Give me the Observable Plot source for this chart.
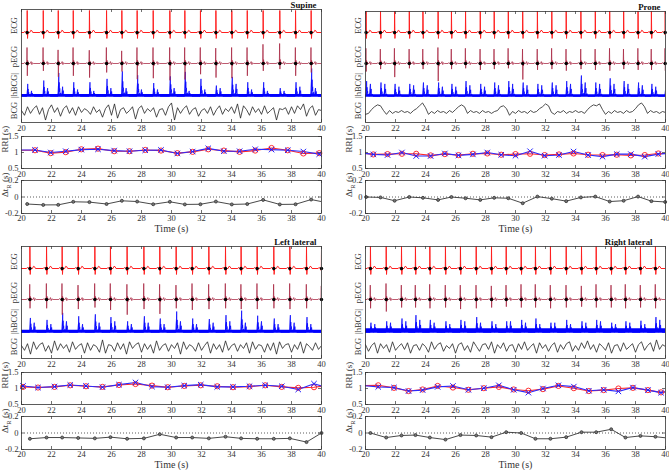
<!DOCTYPE html>
<html><head><meta charset="utf-8">
<script src="https://cdn.jsdelivr.net/npm/d3@7"></script>
<script src="https://cdn.jsdelivr.net/npm/@observablehq/plot@0.6"></script>
<style>
body{margin:0;background:#fff;}
#root{position:relative;width:669px;height:470px;overflow:hidden;background:#fff;}
#root svg{position:absolute;overflow:visible;}
</style></head><body><div id="root"></div>
<script>
// ---------- tick labels / names ----------
const xTicks=[20,22,24,26,28,30,32,34,36,38,40];
const rriTicks=[0.5,1,1.5];
const dtTicks=[-0.2,0,0.2];
const rowLabels=["ECG","pECG","|hBCG|","BCG"];
const panelNames=["Supine","Prone","Left lateral","Right lateral"];

// ---------- R-peak times (s) ----------
const beatsSupine=[20.38,21.45,22.45,23.45,24.53,25.67,26.69,27.71,28.78,29.89,30.89,31.93,32.96,34.02,35.05,36.11,37.22,38.27,39.31];
const beatsProne=[20.04,21.0,21.94,22.92,23.83,24.84,25.73,26.67,27.65,28.58,29.52,30.48,31.46,32.42,33.38,34.36,35.32,36.28,37.21,38.17,39.06,39.98];
const beatsLeft=[20.56,21.67,22.71,23.78,24.89,25.93,27.04,28.16,29.22,30.31,31.38,32.49,33.6,34.64,35.71,36.82,37.89,39.0,40.0];
const beatsRight=[20.33,21.38,22.4,23.33,24.29,25.33,26.33,27.38,28.4,29.38,30.38,31.33,32.33,33.38,34.4,35.38,36.38,37.33,38.33,39.33];

// ---------- pECG R (up) and S (down) amplitudes per beat ----------
const pUpSupine=[1,1,0.85,1,0.83,1,0.79,1,1,1,1,1,0.96,1,1,1.2,1.25,1,1];
const pDownSupine=[0.77,0.46,0.83,0.77,0.88,0.56,0.5,0.98,0.92,1.05,1.0,0.67,0.88,0.92,0.77,0.46,0.35,0.77,0.56];
const pUpProne=[0.95,0.9,0.95,0.9,0.9,1.0,0.9,0.95,0.9,0.9,0.95,0.9,0.9,0.95,0.9,0.9,0.9,0.95,0.9,0.95,0.9,0.95];
const pDownProne=[0.5,0.35,0.85,0.3,0.35,1.1,0.35,0.3,0.4,0.35,0.3,1.0,0.4,0.35,0.45,0.35,0.4,0.45,0.35,0.4,0.4,0.45];
const pUpLeft=[0.95,1.0,1.0,0.9,1.0,1.0,0.95,1.0,0.95,0.9,1.0,0.95,1.0,0.95,1.0,0.95,1.0,0.95,0.85];
const pDownLeft=[0.55,0.55,0.95,0.6,0.5,0.65,0.95,0.6,0.9,0.55,0.65,0.6,0.55,0.6,0.6,0.55,0.6,0.55,0.75];
const pUpRight=[0.9,1.0,0.9,0.9,0.95,0.9,0.9,0.9,0.85,0.9,0.95,0.95,0.9,0.9,0.85,0.95,0.9,0.95,0.9,0.95];
const pDownRight=[0.55,0.75,0.5,0.5,0.55,0.5,0.6,0.55,0.5,0.45,0.5,0.5,0.55,0.5,0.45,0.5,0.5,0.55,0.5,0.55];

// ---------- |hBCG| main / secondary peak heights per beat, noise floor ----------
const hMainSupine=[0.45,0.57,0.84,0.51,0.51,0.63,0.9,0.76,0.48,0.72,0.88,0.63,0.39,0.7,0.51,0.51,0.3,0.51,1.0];
const hSecSupine=[0.2,0.3,0.35,0.25,0.2,0.3,0.3,0.25,0.25,0.3,0.2,0.25,0.3,0.45,0.25,0.2,0.2,0.35,0.3];
const hMainProne=[0.55,0.5,0.45,0.45,0.5,0.5,0.45,0.55,0.45,0.5,0.55,0.5,0.45,0.5,0.55,0.75,0.5,0.65,0.55,0.5,0.45,0.4];
const hSecProne=[0.45,0.45,0.35,0.4,0.4,0.35,0.35,0.4,0.35,0.4,0.45,0.4,0.4,0.4,0.45,0.5,0.45,0.45,0.45,0.4,0.35,0.3];
const hMainLeft=[0.52,0.45,0.7,0.58,0.65,0.55,0.4,0.58,0.5,0.75,0.5,0.48,0.62,0.78,0.6,0.5,0.62,0.55,0.6];
const hSecLeft=[0.35,0.3,0.4,0.3,0.35,0.4,0.3,0.35,0.3,0.4,0.3,0.35,0.4,0.35,0.4,0.3,0.35,0.3,0.3];
const hMainRight=[0.35,0.4,0.5,0.62,0.45,0.4,0.45,0.55,0.4,0.4,0.45,0.5,0.35,0.45,0.4,0.45,0.35,0.4,0.42,0.55];
const hSecRight=[0.3,0.35,0.4,0.45,0.35,0.3,0.4,0.35,0.3,0.4,0.35,0.3,0.35,0.3,0.35,0.4,0.3,0.35,0.3,0.45];
const hFloor=[0.07,0.06,0.08,0.13];

// ---------- BCG samples, 20 s to 40 s, evenly spaced ----------
const bcgSupine=[0.1,-0.4,0.5,-0.2,0.3,0.6,-0.3,0.4,-0.9,0.2,0.7,-0.1,0.4,-0.5,0.3,0.6,-0.2,0.4,-0.4,0.5,
 -0.1,0.3,0.1,-0.3,0.5,-0.1,0.2,-0.6,0.3,0.7,-0.4,0.8,-0.7,0.2,0.4,-0.2,0.1,0.5,-0.8,0.3,
 0.6,-0.2,0.3,0.0,0.4,-0.6,0.2,0.3,-0.4,0.5,0.9,-0.9,0.4,-0.2,0.3,0.6,-0.3,0.2,0.4,-0.5,
 0.1,0.3,-0.2,0.5,-0.4,0.2,0.6,-0.3,0.3,0.0,0.5,-0.2,0.8,-0.7,0.6,0.2,-0.4,0.5,-0.1,0.3,
 -0.3,0.6,-0.2,0.1,0.4,-0.9,0.3,0.2,0.4,-0.3,0.5,-0.2,0.6,0.2,0.8,-0.5,0.3,0.6,-0.4,0.2,0.1];
const bcgProne=[-0.3,-0.2,0.2,0.5,0.7,0.6,0.1,-0.3,0.1,-0.2,0.0,-0.1,0.1,-0.1,0.0,-0.2,0.1,0.3,0.6,0.9,
 0.4,-0.3,0.0,-0.2,0.1,-0.1,0.0,-0.2,0.1,-0.1,0.2,0.5,0.7,0.5,-0.2,0.1,-0.1,0.0,-0.2,0.1,
 -0.1,0.0,-0.2,0.0,0.1,0.5,0.6,0.3,-0.4,0.0,-0.2,0.1,-0.1,0.0,-0.2,0.1,-0.1,0.0,0.3,0.5,
 0.8,0.6,-0.1,-0.3,0.0,-0.1,0.1,-0.2,0.0,-0.1,0.1,-0.1,0.0,-0.2,0.2,0.5,0.7,0.6,0.8,0.2,
 -0.3,0.0,-0.2,0.1,-0.1,0.0,-0.2,0.1,-0.1,0.0,0.3,0.7,0.9,0.5,-0.2,0.1,-0.1,0.0,-0.2,0.0,-0.1];
const bcgLeft=[0.2,-0.3,0.4,-0.7,0.6,-0.2,0.3,0.5,-0.4,0.2,-0.6,0.7,-0.3,0.4,-0.1,0.3,-0.5,0.6,-0.2,0.2,
 0.4,-0.6,0.5,-0.3,0.3,0.1,-0.5,0.8,-0.6,0.3,0.2,-0.4,0.5,-0.2,0.4,-0.7,0.6,-0.1,0.3,0.5,
 -0.5,0.4,-0.2,0.3,-0.6,0.7,-0.3,0.2,0.4,-0.4,0.3,-0.1,0.5,-0.7,0.6,-0.2,0.3,0.1,-0.4,0.5,
 -0.3,0.2,0.6,-0.6,0.4,-0.2,0.3,-0.5,0.7,-0.3,0.2,0.4,-0.4,0.3,-0.1,0.5,-0.6,0.6,-0.2,0.3,
 0.2,-0.5,0.4,-0.3,0.5,-0.7,0.6,-0.1,0.3,0.4,-0.5,0.3,-0.2,0.6,-0.6,0.4,0.1,-0.3,0.5,-0.2,0.2];
const bcgRight=[0.3,-0.4,0.2,0.5,-0.6,0.4,-0.1,0.3,-0.5,0.6,-0.3,0.1,0.4,-0.2,0.5,-0.6,0.2,0.3,-0.3,0.4,
 0.1,-0.5,0.6,-0.2,0.3,0.5,-0.4,0.2,-0.1,0.4,-0.6,0.3,0.5,-0.3,0.2,-0.5,0.6,0.1,-0.4,0.3,
 0.4,-0.2,0.6,-0.6,0.3,-0.1,0.5,-0.4,0.2,0.3,-0.5,0.4,-0.2,0.6,-0.3,0.1,0.4,-0.6,0.5,-0.1,
 0.3,-0.4,0.2,0.5,-0.5,0.3,-0.2,0.4,0.6,-0.4,0.2,-0.3,0.5,-0.1,0.7,-0.2,0.3,-0.5,0.4,0.1,
 -0.3,0.5,-0.6,0.2,0.3,-0.4,0.5,-0.2,0.1,0.4,-0.5,0.3,0.6,-0.3,0.2,0.5,-0.4,0.8,-0.2,0.3,0.1];

// ---------- RRI (s): time, ECG-derived, BCG-derived (first/last points lie just outside 20–40 s) ----------
const rriTSupine=[19.85,20.9,21.95,22.95,23.99,25.1,26.18,27.2,28.25,29.3,30.39,31.41,32.45,33.49,34.54,35.58,36.67,37.75,38.79,39.85,40.9];
const rriEcgSupine=[1.07,1.07,0.98,1.01,1.1,1.12,1.04,1.04,1.08,1.06,0.98,1.02,1.1,1.06,1.02,1.06,1.14,1.07,0.97,0.98,1.0];
const rriBcgSupine=[1.08,1.08,1.0,1.04,1.09,1.1,1.06,1.04,1.07,1.08,0.97,1.03,1.13,1.04,1.04,1.1,1.09,1.07,1.03,0.95,1.0];
const rriTProne=[19.55,20.52,21.47,22.43,23.38,24.34,25.29,26.2,27.16,28.12,29.05,30.0,30.97,31.94,32.9,33.87,34.84,35.8,36.75,37.69,38.62,39.52,40.48];
const rriEcgProne=[1.0,0.94,0.95,0.96,0.96,0.91,0.95,0.92,0.96,0.97,0.93,0.95,0.96,0.92,0.94,0.97,0.93,0.92,0.93,0.91,0.92,0.97,0.97];
const rriBcgProne=[1.0,0.94,0.92,1.0,0.89,0.89,0.97,0.91,0.94,1.0,0.93,0.9,1.04,0.9,0.92,1.03,0.92,0.87,0.95,0.95,0.87,0.95,0.98];
const rriTLeft=[19.1,20.1,21.1,22.2,23.25,24.3,25.4,26.5,27.6,28.7,29.75,30.85,31.95,33.05,34.1,35.2,36.25,37.35,38.45,39.5,40.55];
const rriEcgLeft=[1.05,1.05,1.03,1.05,1.1,1.07,1.05,1.11,1.14,1.09,1.04,1.08,1.1,1.07,1.04,1.06,1.1,1.05,1.02,1.04,1.1];
const rriBcgLeft=[1.08,1.08,1.03,1.06,1.11,1.08,1.04,1.12,1.19,1.06,1.04,1.09,1.12,1.05,1.05,1.07,1.1,1.07,0.97,1.15,1.0];
const rriTRight=[19.85,20.85,21.9,22.87,23.81,24.81,25.83,26.86,27.89,28.89,29.88,30.86,31.83,32.86,33.89,34.89,35.88,36.86,37.83,38.83,39.7,40.6];
const rriEcgRight=[1.09,1.1,1.02,0.92,0.97,1.08,1.03,0.96,1.01,1.05,0.97,0.93,0.98,1.08,1.01,0.92,0.95,1.0,1.02,0.95,0.88,0.95];
const rriBcgRight=[1.09,1.05,1.03,0.92,0.95,1.05,1.08,0.96,1.01,1.1,0.96,0.87,1.0,1.1,1.06,0.93,0.96,0.91,1.03,0.95,0.87,0.95];

// ---------- Δt_R (s) at each beat (last point may lie beyond 40 s) ----------
const dtTSupine=[20.38,21.45,22.45,23.45,24.53,25.67,26.69,27.71,28.78,29.89,30.89,31.93,32.96,34.02,35.05,36.11,37.22,38.27,39.31,40.4];
const dtSupine=[-0.085,-0.096,-0.095,-0.058,-0.062,-0.085,-0.046,-0.055,-0.088,-0.058,-0.09,-0.088,-0.055,-0.09,-0.085,-0.035,-0.09,-0.088,-0.031,-0.07];
const dtTProne=[20.04,21.0,21.94,22.92,23.83,24.84,25.73,26.67,27.65,28.58,29.52,30.48,31.46,32.42,33.38,34.36,35.32,36.28,37.21,38.17,39.06,39.98,40.9];
const dtProne=[0,-0.005,-0.045,0,-0.01,-0.035,0,-0.015,-0.035,-0.01,-0.015,-0.075,0.005,-0.02,-0.05,-0.005,0.005,-0.055,-0.045,0.005,-0.05,-0.06,-0.06];
const dtTLeft=[20.56,21.67,22.71,23.78,24.89,25.93,27.04,28.16,29.22,30.31,31.38,32.49,33.6,34.64,35.71,36.82,37.89,39.0,40.0];
const dtLeft=[-0.07,-0.055,-0.055,-0.06,-0.065,-0.05,-0.07,-0.065,-0.015,-0.055,-0.055,-0.065,-0.045,-0.065,-0.07,-0.07,-0.065,-0.11,0];
const dtTRight=[20.33,21.38,22.4,23.33,24.29,25.33,26.33,27.38,28.4,29.38,30.38,31.33,32.33,33.38,34.4,35.38,36.38,37.33,38.33,39.33,40.33];
const dtRight=[0,-0.055,-0.03,-0.025,-0.055,-0.08,-0.025,-0.03,-0.05,0.01,0,-0.07,-0.07,-0.05,0.01,0.01,0.045,-0.055,-0.035,-0.045,-0.065];

// ---------- waveform shapes around an R peak: [offset s, ...coefficients] ----------
const ECG_SHAPE=[[-0.22,0],[-0.18,0.04],[-0.13,0.04],[-0.09,0],[-0.03,0],[-0.012,-0.1],[0,1],[0.022,-0.27],[0.045,0],[0.17,0],[0.24,0.1],[0.31,0.08],[0.37,0]];
const PECG_SHAPE=[[-0.22,0,0,0],[-0.17,0,0,0.06],[-0.12,0,0,0],[-0.03,0,0,0],[-0.012,1,0,0],[0.008,0,1,0],[0.028,0.2,0,0],[0.048,0,0.15,0],[0.075,0,0,0.1],[0.1,0,0,0],[0.2,0,0,0],[0.26,0,0,0.12],[0.31,0,0,-0.07],[0.36,0,0,0.05],[0.42,0,0,0]];
const HBCG_SHAPE=[[-0.03,0,0],[0.0,0.15,0],[0.02,0.55,0],[0.035,1,0],[0.05,0.35,0],[0.065,0.6,0],[0.085,0.2,0],[0.1,0.35,0],[0.13,0.08,0],[0.17,0.15,0],[0.21,0.02,0],[0.26,0,0.3],[0.29,0,1],[0.31,0,0.3],[0.34,0,0.6],[0.37,0,0.1],[0.42,0,0.2],[0.47,0,0]];

// ---------- layout ----------
const panels=[
 {x0:21,x1:321,y0:0,sigTop:9,titleR:316,beats:beatsSupine,pUp:pUpSupine,pDown:pDownSupine,hMain:hMainSupine,hSec:hSecSupine,bcg:bcgSupine,rT:rriTSupine,rE:rriEcgSupine,rB:rriBcgSupine,dT:dtTSupine,dV:dtSupine},
 {x0:365,x1:665,y0:0,sigTop:11,titleR:660,beats:beatsProne,pUp:pUpProne,pDown:pDownProne,hMain:hMainProne,hSec:hSecProne,bcg:bcgProne,rT:rriTProne,rE:rriEcgProne,rB:rriBcgProne,dT:dtTProne,dV:dtProne},
 {x0:21,x1:321,y0:236,sigTop:10,titleR:316,beats:beatsLeft,pUp:pUpLeft,pDown:pDownLeft,hMain:hMainLeft,hSec:hSecLeft,bcg:bcgLeft,rT:rriTLeft,rE:rriEcgLeft,rB:rriBcgLeft,dT:dtTLeft,dV:dtLeft},
 {x0:365,x1:665,y0:236,sigTop:10,titleR:652,beats:beatsRight,pUp:pUpRight,pDown:pDownRight,hMain:hMainRight,hSec:hSecRight,bcg:bcgRight,rT:rriTRight,rE:rriEcgRight,rB:rriBcgRight,dT:dtTRight,dV:dtRight}
];
const ROW_BASE=[32,63,96,111], ROW_LABEL_Y=[25,56,85,110];
const AMP={ecg:22,pecg:16,hbcg:28,bcg:9.5};
const FONT='"Liberation Serif","Times New Roman",serif';
const INK="#333";
const root=document.getElementById("root");
const mL=26,mR=8;

function place(svg,left,top){svg.style.position="absolute";svg.style.left=left+"px";svg.style.top=top+"px";root.appendChild(svg);}
function baseOpts(W,H,mT,mB){return {width:W+mL+mR,height:H+mT+mB,marginLeft:mL,marginRight:mR,marginTop:mT,marginBottom:mB,
  style:{fontFamily:FONT,fontSize:"8.5px",color:INK,background:"transparent",overflow:"visible"}};}
function boxTicks(W,H,yt,pad){
  const m=[Plot.frame({stroke:INK,strokeWidth:0.8}),
    Plot.tickX(xTicks,{x:d=>d,insetTop:H-3,stroke:INK,strokeWidth:0.7}),
    Plot.tickX(xTicks,{x:d=>d,insetBottom:H-3,stroke:INK,strokeWidth:0.7}),
    Plot.axisX(xTicks,{tickSize:0,tickPadding:pad??2,label:null,fontSize:8.5,tickFormat:d=>String(d)})];
  if(yt){m.push(Plot.tickY(yt,{y:d=>d,insetRight:W-3,stroke:INK,strokeWidth:0.7}),
    Plot.tickY(yt,{y:d=>d,insetLeft:W-3,stroke:INK,strokeWidth:0.7}),
    Plot.axisY(yt,{tickSize:0,tickPadding:3,label:null,fontSize:8.5,tickFormat:d=>String(d)}));}
  return m;
}

panels.forEach((p,i)=>{
  const W=p.x1-p.x0;
  // ---- signal panel ----
  const sBot=122, H=sBot-p.sigTop, mT=12, mB=14;
  const wave=(shape,f)=>[{t:18,v:0}].concat(p.beats.flatMap((b,k)=>shape.map(s=>({t:b+s[0],v:f(s,k)})))).concat([{t:42,v:0}]);
  const ecg=wave(ECG_SHAPE,s=>s[1]);
  const pe=wave(PECG_SHAPE,(s,k)=>s[1]*p.pUp[k]-s[2]*p.pDown[k]+s[3]);
  const hb=wave(HBCG_SHAPE,(s,k)=>s[1]*p.hMain[k]+s[2]*p.hSec[k]);
  const bcg=p.bcg.map((v,k)=>({t:20+k*20/(p.bcg.length-1),v}));
  const rows=rowLabels.map((l,k)=>({l,y:ROW_LABEL_Y[k]}));
  const [EB,PB,HB,BB]=ROW_BASE;
  const s1=Plot.plot({...baseOpts(W,H,mT,mB),
    x:{domain:[20,40],label:null},y:{domain:[sBot,p.sigTop],axis:null,label:null},
    marks:[
      Plot.areaY([{t:20},{t:40}],{x:"t",y1:HB+0.8,y2:HB-hFloor[i]*AMP.hbcg,fill:"#0000ff",clip:true}),
      Plot.areaY(hb,{x:"t",y1:HB,y2:d=>HB-d.v*AMP.hbcg,fill:"#0000ff",fillOpacity:0.85,clip:true}),
      Plot.line(hb,{x:"t",y:d=>HB-d.v*AMP.hbcg,stroke:"#0000ff",strokeWidth:0.7,clip:true}),
      Plot.line(bcg,{x:"t",y:d=>BB-d.v*AMP.bcg,stroke:"#222",strokeWidth:0.8,clip:true}),
      Plot.line(pe,{x:"t",y:d=>PB-d.v*AMP.pecg,stroke:"#a82642",strokeWidth:0.9,strokeOpacity:0.85,clip:true}),
      Plot.line(ecg,{x:"t",y:d=>EB-d.v*AMP.ecg,stroke:"#ff2020",strokeWidth:1,clip:true}),
      Plot.dot(p.beats,{x:d=>d,y:EB,r:1.7,fill:"#000",stroke:null}),
      Plot.dot(p.beats,{x:d=>d,y:PB,r:1.7,fill:"#000",stroke:null}),
      ...boxTicks(W,H,null),
      Plot.text(rows,{x:20,y:"y",text:"l",rotate:-90,dx:-7,fontSize:8.5,fill:INK}),
      Plot.text([panelNames[i]],{frameAnchor:"top-right",dx:-(p.x1-p.titleR),dy:-4.5,textAnchor:"end",lineAnchor:"middle",fontWeight:"bold",fontSize:8.8,fill:"#111"})
    ]});
  place(s1,p.x0-mL,p.y0+p.sigTop-mT);

  // ---- RRI panel ----
  const rTop=136,rBot=168,rH=rBot-rTop;
  const rri=p.rT.map((t,k)=>({t,e:p.rE[k],b:p.rB[k]}));
  const rIn=rri.filter(d=>d.t>=20&&d.t<=40);
  const s2=Plot.plot({...baseOpts(W,rH,4,12),
    x:{domain:[20,40],label:null},y:{domain:[0.5,1.5],label:null},
    marks:[
      Plot.line(rri,{x:"t",y:"e",stroke:"#ff2a2a",strokeWidth:1.1,clip:true}),
      Plot.line(rri,{x:"t",y:"b",stroke:"#2a2aff",strokeWidth:1.1,clip:true}),
      Plot.dot(rIn,{x:"t",y:"e",r:2.6,stroke:"#ff3030",strokeWidth:1,fill:"none"}),
      Plot.dot(rIn,{x:"t",y:"b",r:2.6,symbol:"times",stroke:"#2020ff",strokeWidth:1}),
      ...boxTicks(W,rH,rriTicks),
      Plot.text(["RRI (s)"],{frameAnchor:"left",dx:-16,rotate:-90,fontSize:9,fill:INK})
    ]});
  place(s2,p.x0-mL,p.y0+rTop-4);

  // ---- Δt panel ----
  const dTop=180,dBot=213,dH=dBot-dTop;
  const dt=p.dT.map((t,k)=>({t,v:p.dV[k]}));
  const dIn=dt.filter(d=>d.t<=40.05);
  const s3=Plot.plot({...baseOpts(W,dH,4,21),
    x:{domain:[20,40],label:null},y:{domain:[-0.2,0.2],label:null},
    marks:[
      Plot.ruleY([0],{stroke:INK,strokeWidth:0.8,strokeDasharray:"1,2"}),
      Plot.line(dt,{x:"t",y:"v",stroke:"#333",strokeWidth:0.9,clip:true}),
      Plot.dot(dIn,{x:"t",y:"v",r:1.5,stroke:"#333",strokeWidth:0.8,fill:"#777"}),
      ...boxTicks(W,dH,dtTicks,1.2),
      Plot.text(["DT_LABEL"],{frameAnchor:"left",dx:-16,rotate:-90,fontSize:9,fill:INK}),
      Plot.text(["Time (s)"],{frameAnchor:"bottom",dy:15,lineAnchor:"middle",fontSize:10,fill:INK})
    ]});
  s3.querySelectorAll("text").forEach(t=>{
    if(t.textContent==="DT_LABEL"){
      t.textContent="";
      const ns="http://www.w3.org/2000/svg";
      const a=document.createElementNS(ns,"tspan");a.textContent="Δt";
      const b=document.createElementNS(ns,"tspan");b.textContent="R";b.setAttribute("font-size","6.5");b.setAttribute("dy","2.5");
      const c=document.createElementNS(ns,"tspan");c.textContent=" (s)";c.setAttribute("dy","-2.5");
      t.append(a,b,c);
    }
  });
  place(s3,p.x0-mL,p.y0+dTop-4);
});
</script></body></html>
